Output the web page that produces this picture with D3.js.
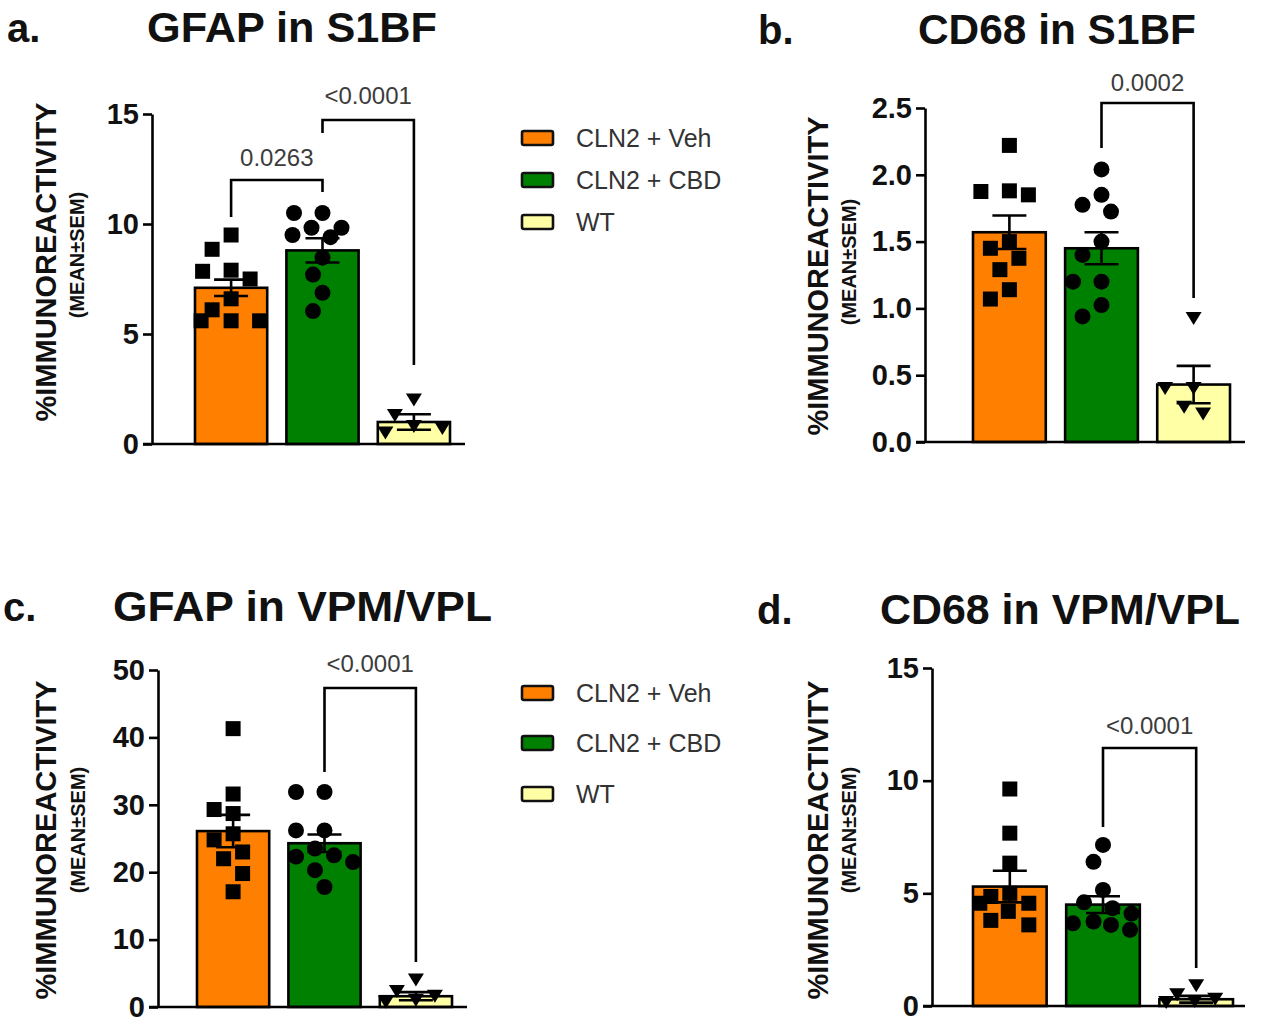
<!DOCTYPE html>
<html><head><meta charset="utf-8">
<script src="https://cdn.jsdelivr.net/npm/d3@7"></script>
<style>
html,body{margin:0;padding:0;background:#fff;}
svg{display:block;font-family:Arial,"Liberation Sans",Helvetica,sans-serif;}
</style></head>
<body><svg id="chart" width="1280" height="1028"></svg>
<script>
// ---------- DATA ----------
const groups = ["CLN2 + Veh", "CLN2 + CBD", "WT"];
const groupColors = ["#ff8000", "#008000", "#ffffa6"];
const markerShapes = ["square", "circle", "triangle"];

// Panel a: GFAP in S1BF
const aVeh = [9.5, 8.85, 7.9, 7.85, 7.5, 6.6, 6.1, 5.6, 5.6, 5.6];
const aCbd = [10.5, 10.5, 9.83, 9.83, 9.5, 9.4, 8.47, 7.7, 6.87, 6.04];
const aWt  = [2.0, 1.3, 0.8, 0.7, 0.5];
const aMeans = [7.1, 8.8, 1.0];
const aSems  = [0.37, 0.55, 0.35];
const aTicks = [0, 5, 10, 15];

// Panel b: CD68 in S1BF
const bVeh = [2.22, 1.88, 1.875, 1.85, 1.5, 1.45, 1.375, 1.29, 1.14, 1.07];
const bCbd = [2.04, 1.85, 1.775, 1.725, 1.5, 1.4, 1.2, 1.2, 1.025, 0.94];
const bWt  = [0.925, 0.4, 0.4, 0.26, 0.21];
const bMeans = [1.57, 1.45, 0.43];
const bSems  = [0.125, 0.12, 0.14];
const bTicks = [0, 0.5, 1.0, 1.5, 2.0, 2.5];

// Panel c: GFAP in VPM/VPL
const cVeh = [41.3, 31.6, 29.3, 28.7, 25.7, 24.8, 23.0, 22.0, 19.8, 17.1];
const cCbd = [31.9, 31.9, 26.2, 26.2, 23.5, 22.5, 22.3, 21.5, 20.3, 17.8];
const cWt  = [4.0, 2.3, 1.6, 1.0, 0.7];
const cMeans = [26.1, 24.3, 1.6];
const cSems  = [2.4, 1.3, 0.6];
const cTicks = [0, 10, 20, 30, 40, 50];

// Panel d: CD68 in VPM/VPL
const dVeh = [9.63, 7.67, 6.34, 5.0, 4.86, 4.56, 4.56, 4.2, 3.8, 3.6];
const dCbd = [7.15, 6.4, 5.15, 4.6, 4.34, 4.1, 3.75, 3.67, 3.6, 3.38];
const dWt  = [0.9, 0.5, 0.3, 0.2, 0.15];
const dMeans = [5.3, 4.5, 0.3];
const dSems  = [0.7, 0.37, 0.15];
const dTicks = [0, 5, 10, 15];

// comparisons: [fromGroup, toGroup, label]
const aComparisons = [[0, 1, "0.0263"], [1, 2, "<0.0001"]];
const bComparisons = [[1, 2, "0.0002"]];
const cComparisons = [[1, 2, "<0.0001"]];
const dComparisons = [[1, 2, "<0.0001"]];

const yTitle = "%IMMUNOREACTIVITY";
const ySubTitle = "(MEAN±SEM)";

// ---------- LAYOUT ----------
const panels = [
  { letter: "a.", title: "GFAP in S1BF", pts: [aVeh, aCbd, aWt], means: aMeans, sems: aSems, ticks: aTicks, fmt: d3.format("d"), comps: aComparisons,
    axisX: 152, y0: 444, yTop: 114, barL: 195, barR: 450, xEnd: 465,
    letterX: 7, titleX: 147, titleW: 290, titleY: 42, ylabX: 46, ylabCy: 262, ysubX: 77, ysubCy: 255,
    brackets: [{ top: 180, legs: [217, 192], ly: 166 }, { top: 120, legs: [133, 365], ly: 104 }],
    legend: { x: 522, ys: [138, 180, 222] } },
  { letter: "b.", title: "CD68 in S1BF", pts: [bVeh, bCbd, bWt], means: bMeans, sems: bSems, ticks: bTicks, fmt: d3.format(".1f"), comps: bComparisons,
    axisX: 925, y0: 442, yTop: 108, barL: 973, barR: 1230, xEnd: 1245,
    letterX: 758, titleX: 918, titleW: 278, titleY: 44, ylabX: 818, ylabCy: 276, ysubX: 849, ysubCy: 262,
    brackets: [{ top: 103, legs: [148, 298], ly: 91 }] },
  { letter: "c.", title: "GFAP in VPM/VPL", pts: [cVeh, cCbd, cWt], means: cMeans, sems: cSems, ticks: cTicks, fmt: d3.format("d"), comps: cComparisons,
    axisX: 158, y0: 1007, yTop: 670, barL: 197, barR: 452, xEnd: 467,
    letterX: 3, titleX: 113, titleW: 379, titleY: 621, ylabX: 46, ylabCy: 840, ysubX: 78, ysubCy: 830,
    brackets: [{ top: 688, legs: [772, 962], ly: 672 }],
    legend: { x: 522, ys: [693, 743, 794] } },
  { letter: "d.", title: "CD68 in VPM/VPL", pts: [dVeh, dCbd, dWt], means: dMeans, sems: dSems, ticks: dTicks, fmt: d3.format("d"), comps: dComparisons,
    axisX: 932, y0: 1006, yTop: 668, barL: 973, barR: 1233, xEnd: 1245,
    letterX: 757, titleX: 880, titleW: 360, titleY: 624, ylabX: 818, ylabCy: 840, ysubX: 849, ysubCy: 830,
    brackets: [{ top: 748, legs: [827, 968], ly: 734 }] }
];

const svg = d3.select("#chart");
const SW = 2.6;

function swarm(values, y, cx, size, maxHalf) {
  const order = values.map((v, i) => i).sort((i, j) => values[j] - values[i]);
  const placed = [];
  const out = new Array(values.length);
  const step = 9.5;
  const minD = size * 1.2;
  order.forEach(i => {
    const yy = y(values[i]);
    let best = null;
    for (let k = 0; k < 40; k++) {
      const off = (k % 2 === 1 ? -1 : 1) * Math.ceil(k / 2) * step;
      if (Math.abs(off) > maxHalf) continue;
      const xx = cx + off;
      const hit = placed.some(p => (p.x - xx) ** 2 + (p.y - yy) ** 2 < minD ** 2);
      if (!hit) { best = { x: xx, y: yy }; break; }
    }
    if (!best) {
      // fall back: least-crowded position within the band
      let bestScore = Infinity;
      for (let off = -maxHalf; off <= maxHalf; off += step) {
        const xx = cx + off;
        const s = d3.min(placed, p => (p.x - xx) ** 2 + (p.y - yy) ** 2);
        const score = -s;
        if (score < bestScore) { bestScore = score; best = { x: xx, y: yy }; }
      }
    }
    placed.push(best); out[i] = best;
  });
  return out;
}

function drawMarker(g, shape, x, y) {
  if (shape === "square") {
    g.append("rect").attr("x", x - 7.5).attr("y", y - 7.5).attr("width", 15).attr("height", 15).attr("fill", "#000");
  } else if (shape === "circle") {
    g.append("circle").attr("cx", x).attr("cy", y).attr("r", 8).attr("fill", "#000");
  } else {
    const s = 16, h = 13;
    g.append("path").attr("d", `M${x - s / 2},${y - h / 2}L${x + s / 2},${y - h / 2}L${x},${y + h / 2}Z`).attr("fill", "#000");
  }
}

panels.forEach(p => {
  const g = svg.append("g");
  const y = d3.scaleLinear().domain([0, p.ticks[p.ticks.length - 1]]).range([p.y0, p.yTop]);
  const x = d3.scaleBand().domain(groups).range([p.barL, p.barR]).paddingInner(0.21).paddingOuter(0);
  const bw = x.bandwidth();

  // titles
  g.append("text").attr("x", p.letterX).attr("y", p.titleY).attr("font-size", 40).attr("font-weight", "bold").attr("fill", "#111").text(p.letter);
  g.append("text").attr("x", p.titleX).attr("y", p.titleY).attr("font-size", 42).attr("font-weight", "bold").attr("fill", "#111")
    .attr("textLength", p.titleW).attr("lengthAdjust", "spacingAndGlyphs").text(p.title);

  // y axis titles
  g.append("text").attr("transform", `translate(${p.ylabX},${p.ylabCy}) rotate(-90)`).attr("text-anchor", "middle").attr("dominant-baseline", "central")
    .attr("font-size", 29).attr("font-weight", "bold").attr("fill", "#111").text(yTitle);
  g.append("text").attr("transform", `translate(${p.ysubX},${p.ysubCy}) rotate(-90)`).attr("text-anchor", "middle").attr("dominant-baseline", "central")
    .attr("font-size", 20).attr("font-weight", "bold").attr("fill", "#111").text(ySubTitle);

  // bars
  groups.forEach((gr, i) => {
    g.append("rect").attr("x", x(gr)).attr("y", y(p.means[i])).attr("width", bw).attr("height", y(0) - y(p.means[i]))
      .attr("fill", groupColors[i]).attr("stroke", "#000").attr("stroke-width", SW);
  });

  // points
  groups.forEach((gr, i) => {
    const cx = x(gr) + bw / 2;
    const pos = swarm(p.pts[i], y, cx, 16, 30);
    pos.forEach(q => drawMarker(g, markerShapes[i], q.x, q.y));
  });

  // error bars
  groups.forEach((gr, i) => {
    const cx = x(gr) + bw / 2;
    const hi = y(p.means[i] + p.sems[i]), lo = y(Math.max(0, p.means[i] - p.sems[i]));
    const cw = 17;
    g.append("line").attr("x1", cx).attr("x2", cx).attr("y1", hi).attr("y2", lo).attr("stroke", "#000").attr("stroke-width", SW);
    g.append("line").attr("x1", cx - cw).attr("x2", cx + cw).attr("y1", hi).attr("y2", hi).attr("stroke", "#000").attr("stroke-width", SW);
    g.append("line").attr("x1", cx - cw).attr("x2", cx + cw).attr("y1", lo).attr("y2", lo).attr("stroke", "#000").attr("stroke-width", SW);
  });

  // axes
  const yAxis = d3.axisLeft(y).tickValues(p.ticks).tickFormat(p.fmt).tickSize(9).tickSizeOuter(0).tickPadding(4);
  const ya = g.append("g").attr("transform", `translate(${p.axisX},0)`).call(yAxis);
  ya.select(".domain").attr("stroke", "#000").attr("stroke-width", SW);
  ya.selectAll(".tick line").attr("stroke", "#000").attr("stroke-width", SW);
  ya.selectAll(".tick text").attr("font-size", 29).attr("font-weight", "bold").attr("fill", "#111").attr("font-family", "Arial, 'Liberation Sans', sans-serif");
  g.append("line").attr("x1", p.axisX - 9).attr("x2", p.xEnd).attr("y1", y(0)).attr("y2", y(0)).attr("stroke", "#000").attr("stroke-width", SW);

  // brackets
  p.comps.forEach((c, k) => {
    const b = p.brackets[k];
    const x1 = x(groups[c[0]]) + bw / 2, x2 = x(groups[c[1]]) + bw / 2;
    g.append("path").attr("d", `M${x1},${b.legs[0]}V${b.top}H${x2}V${b.legs[1]}`).attr("fill", "none").attr("stroke", "#000").attr("stroke-width", SW);
    g.append("text").attr("x", (x1 + x2) / 2).attr("y", b.ly).attr("text-anchor", "middle").attr("font-size", 24).attr("fill", "#3c3c3c").text(c[2]);
  });

  // legend
  if (p.legend) {
    groups.forEach((gr, i) => {
      const ly = p.legend.ys[i];
      g.append("rect").attr("x", p.legend.x).attr("y", ly - 7).attr("width", 31).attr("height", 14).attr("rx", 2)
        .attr("fill", groupColors[i]).attr("stroke", "#111").attr("stroke-width", 2.6);
      g.append("text").attr("x", p.legend.x + 54).attr("y", ly).attr("dominant-baseline", "central").attr("font-size", 25).attr("fill", "#333").text(gr);
    });
  }
});
</script></body></html>
